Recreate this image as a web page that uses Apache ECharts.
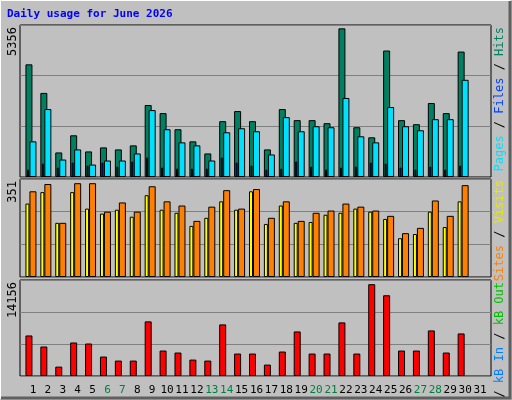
<!DOCTYPE html>
<html><head><meta charset="utf-8">
<script src="https://cdn.jsdelivr.net/npm/echarts@6/dist/echarts.min.js"></script>
<style>html,body{margin:0;padding:0;background:#c0c0c0}#c{width:512px;height:400px}</style>
</head><body><div id="c"></div>
<script>
const days = ['1','2','3','4','5','6','7','8','9','10','11','12','13','14','15','16','17','18','19','20','21','22','23','24','25','26','27','28','29','30','31'];
const weekend = ['6','7','13','14','20','21','27','28'];
const hits = [3970,2963,865,1469,901,1043,972,1114,2536,2251,1683,1256,830,1967,2323,1967,972,2394,2003,2003,1896,5238,1754,1398,4456,2003,1860,2607,2251,4420,null];
const files = [1256,2394,616,972,438,581,581,830,2358,1683,1221,1114,581,1576,1718,1612,794,2109,1612,1789,1754,2785,1434,1221,2465,1789,1647,2038,2038,3425,null];
const pages = [261,474,332,510,403,510,367,545,687,332,296,296,296,687,510,403,261,296,545,367,261,332,367,510,474,332,261,367,261,403,null];
const visits = [263,304,194,304,245,227,241,216,293,241,230,183,212,271,241,307,190,256,194,197,223,230,245,234,208,139,154,234,179,271,null];
const sites = [307,333,194,336,336,234,267,234,325,271,256,201,252,311,245,315,212,271,201,230,238,263,252,238,219,157,176,274,219,329,null];
const kbF = [5978,4348,1383,4941,4792,2866,2273,2273,8053,3755,3459,2421,2273,7609,3310,3310,1680,3607,6571,3310,3310,7905,3310,13538,11907,3755,3755,6719,3459,6275,null];
const maxHits = 5356, maxVisits = 351, maxKB = 14156;

const FONT = 'DejaVu Sans Mono';
const panels = [{top:25,h:152,max:maxHits},{top:179,h:98,max:maxVisits},{top:280,h:96,max:maxKB}];
const grids=[], xAxes=[], yAxes=[], series=[];
function addGrid(left,width,p,showFrame,splits,labels){
  grids.push({left:left,top:p.top,width:width,height:p.h,show:showFrame,backgroundColor:'transparent',borderColor:'#000',borderWidth:showFrame?1:0});
  const i=grids.length-1;
  xAxes.push({type:'category',gridIndex:i,data:days,show:!!labels,boundaryGap:true,
    axisLine:{show:false},axisTick:{show:false},
    axisLabel:{show:!!labels,margin:9,fontFamily:FONT,fontSize:11,interval:0,
      color:function(v){return weekend.includes(v)?'#008040':'#000';}}});
  yAxes.push({type:'value',gridIndex:i,min:0,max:p.max,interval:p.max/3,show:!!splits,
    axisLabel:{show:false},axisLine:{show:false},axisTick:{show:false},
    splitLine:{show:!!splits,lineStyle:{color:'#808080',width:1}}});
  return i;
}
function bar(gi,data,w,color){
  series.push({type:'bar',xAxisIndex:gi,yAxisIndex:gi,data:data,barWidth:w,animation:false,
    itemStyle:{color:color,borderColor:'#000',borderWidth:1}});
}
panels.forEach(p=>addGrid(20,471,p,true,true,false));
const L=25.5,W=462;
bar(addGrid(L-4,W,panels[0]),hits,7,'#008060');
bar(addGrid(L-5,W,panels[0]),pages,2,'#0040ff');
bar(addGrid(L,W,panels[0]),files,7,'#00e0ff');
bar(addGrid(L-5.5,W,panels[1]),visits,4,'#ffff00');
bar(addGrid(L,W,panels[1]),sites,7,'#ff8000');
bar(addGrid(L-4,W,panels[2]),kbF,7,'#ff0000');
addGrid(L,W,panels[2],false,false,true);
series[1].z=3;

function vtext(x,y,rich,text){
  return {type:'text',x:x,y:y,rotation:Math.PI/2,silent:true,
    style:{text:text,rich:rich,font:'12px '+FONT,fill:'#000',align:'right',verticalAlign:'top'}};
}
const F='12px '+FONT;
const rich={
  pg:{fill:'#00e0ff',font:F},fl:{fill:'#0040ff',font:F},ht:{fill:'#008060',font:F},
  sl:{fill:'#000',font:F},
  st:{fill:'#ff8000',font:F},vs:{fill:'#e8e800',font:F},
  kf:{fill:'#ff0000',font:F},ki:{fill:'#0080ff',font:F},ko:{fill:'#00c000',font:F}
};
const graphic=[
  {type:'rect',shape:{x:0.5,y:0.5,width:510,height:398},style:{fill:'none',stroke:'#ffffff',lineWidth:1},silent:true},
  {type:'polyline',shape:{points:[[1,398],[510,398],[510,1]]},style:{stroke:'#606060',lineWidth:3,fill:'none'},silent:true},
  {type:'text',x:7,y:9,style:{text:'Daily usage for June 2026',font:'bold 11px '+FONT,fill:'#0000ff'},silent:true},
  vtext(7,27,{},'5356'),
  vtext(7,181,{},'351'),
  vtext(7,282,{},'14156'),
  vtext(494,27,rich,'{pg|Pages} {sl|/} {fl|Files} {sl|/} {ht|Hits}'),
  vtext(494,180,rich,'{st|Sites} {sl|/} {vs|Visits}'),
  vtext(494,282,rich,'{kf|kB F} {sl|/} {ki|kB In} {sl|/} {ko|kB Out}')
];
const chart=echarts.init(document.getElementById('c'));
chart.setOption({backgroundColor:'#c0c0c0',animation:false,grid:grids,xAxis:xAxes,yAxis:yAxes,series:series,graphic:graphic});
</script></body></html>
